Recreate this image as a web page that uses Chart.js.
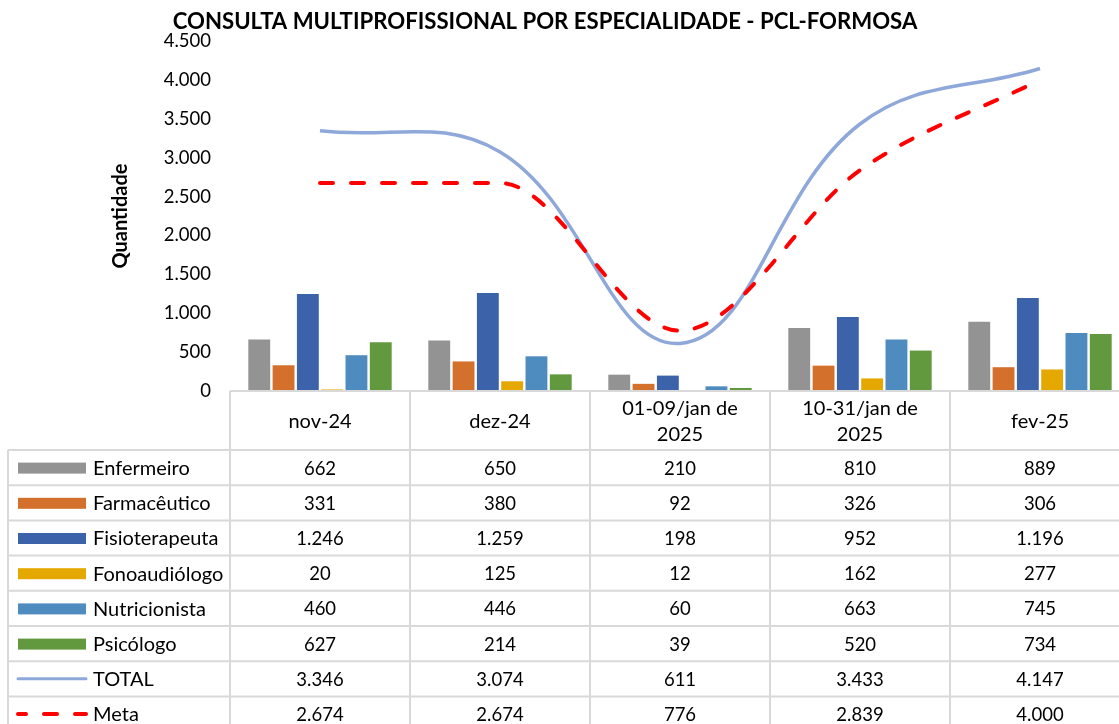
<!DOCTYPE html>
<html><head><meta charset="utf-8">
<script src="https://cdn.jsdelivr.net/npm/chart.js@4"></script>
<style>
html,body{margin:0;padding:0;overflow:hidden;background:#fff;width:1119px;height:724px}
#wrap{position:absolute;left:0;top:0;width:1130px;height:724px}
</style></head><body><div id="wrap"><canvas id="c" width="1130" height="724"></canvas></div>
<script>
const title = "CONSULTA MULTIPROFISSIONAL POR ESPECIALIDADE - PCL-FORMOSA";
const categories = [["nov-24"],["dez-24"],["01-09/jan de","2025"],["10-31/jan de","2025"],["fev-25"]];
const enfermeiro     = [662, 650, 210, 810, 889];
const farmaceutico   = [331, 380, 92, 326, 306];
const fisioterapeuta = [1246, 1259, 198, 952, 1196];
const fonoaudiologo  = [20, 125, 12, 162, 277];
const nutricionista  = [460, 446, 60, 663, 745];
const psicologo      = [627, 214, 39, 520, 734];
const total          = [3346, 3074, 611, 3433, 4147];
const meta           = [2674, 2674, 776, 2839, 4000];
const yTicks = [0, 500, 1000, 1500, 2000, 2500, 3000, 3500, 4000, 4500];

const FONT = "Lato";
const fmt = v => String(v).replace(/\B(?=(\d{3})+(?!\d))/g, ".");

const bar = (label, data, color) => ({type:'bar', label, data, backgroundColor: color, borderWidth:0, order:2,
  categoryPercentage:0.81, barPercentage:0.9, key:'bar'});

const datasets = [
  bar("Enfermeiro", enfermeiro, "#939393"),
  bar("Farmacêutico", farmaceutico, "#D3702C"),
  bar("Fisioterapeuta", fisioterapeuta, "#3C63AA"),
  bar("Fonoaudiólogo", fonoaudiologo, "#E5A800"),
  bar("Nutricionista", nutricionista, "#4E8BBF"),
  bar("Psicólogo", psicologo, "#62993E"),
  {type:'line', label:"TOTAL", data: total, borderColor:"#8FA8DA", borderWidth:3.5, tension:0.4,
   pointRadius:0, fill:false, order:1, key:'line'},
  {type:'line', label:"Meta", data: meta, borderColor:"#FF0000", borderWidth:4, borderDash:[13,18],
   borderCapStyle:'round', cubicInterpolationMode:'monotone', pointRadius:0, fill:false, order:0, key:'dash'}
];

const tablePlugin = {
  id:'table',
  afterDraw(chart){
    const ctx = chart.ctx, area = chart.chartArea, xs = chart.scales.x;
    const n = categories.length;
    const colW = (area.right - area.left) / n;
    const top = area.bottom, headH = 59, rowH = 35.2, left = 8;
    const rows = chart.data.datasets;
    const bottom = top + headH + rowH * rows.length;
    ctx.save();
    ctx.fillStyle = "#000";
    let ts = 22;
    ctx.font = `bold ${ts}px ${FONT}`;
    const w = ctx.measureText(title).width;
    ts = ts * 745 / w;
    ctx.font = `bold ${ts}px ${FONT}`;
    ctx.textAlign = 'center'; ctx.textBaseline = 'middle';
    ctx.fillText(title, 545, 22);

    ctx.strokeStyle = "#D9D9D9"; ctx.lineWidth = 2;
    ctx.beginPath();
    ctx.moveTo(area.left, top); ctx.lineTo(area.right, top);
    for (let i = 0; i <= rows.length; i++) {
      const y = top + headH + rowH * i;
      ctx.moveTo(left, y); ctx.lineTo(area.right, y);
    }
    for (let i = 0; i <= n; i++) {
      const x = area.left + colW * i;
      ctx.moveTo(x, top); ctx.lineTo(x, bottom);
    }
    ctx.moveTo(left, top + headH); ctx.lineTo(left, bottom);
    ctx.stroke();

    ctx.fillStyle = "#000";
    ctx.font = `20px ${FONT}`;
    ctx.textAlign = 'center'; ctx.textBaseline = 'middle';
    categories.forEach((lab, i) => {
      const cx = xs.getPixelForValue(i);
      const cy = top + headH / 2 + 1;
      const lh = 26;
      lab.forEach((t, j) => ctx.fillText(t, cx, cy + (j - (lab.length - 1) / 2) * lh));
    });

    rows.forEach((ds, r) => {
      const cy = top + headH + rowH * r + rowH / 2 + 1;
      if (ds.key === 'bar') {
        ctx.fillStyle = ds.backgroundColor;
        ctx.fillRect(18, cy - 6, 68, 11);
      } else {
        ctx.strokeStyle = ds.borderColor; ctx.lineWidth = ds.key === 'line' ? 3 : 4;
        ctx.lineCap = 'round';
        ctx.setLineDash(ds.key === 'dash' ? [13, 18] : []);
        ctx.lineDashOffset = ds.key === 'dash' ? 5 : 0;
        ctx.beginPath(); ctx.moveTo(18, cy - 1); ctx.lineTo(86, cy - 1); ctx.stroke();
        ctx.setLineDash([]);
      }
      ctx.fillStyle = "#000";
      ctx.font = `20px ${FONT}`;
      ctx.textAlign = 'left';
      ctx.fillText(ds.label, 93, cy);
      ctx.font = `18.5px ${FONT}`;
      ctx.textAlign = 'center';
      ds.data.forEach((v, i) => ctx.fillText(fmt(v), xs.getPixelForValue(i), cy));
    });
    ctx.restore();
  }
};

new Chart(document.getElementById('c'), {
  type:'bar',
  data:{ labels: categories, datasets },
  options:{
    responsive:false, animation:false, devicePixelRatio:1,
    layout:{ padding:{ left:105, top:41, right:0, bottom:333 } },
    plugins:{ legend:{display:false}, tooltip:{enabled:false}, title:{display:false} },
    scales:{
      x:{ display:false },
      y:{
        min:0, max:4500,
        afterFit(s){ s.width = 125; },
        afterBuildTicks(s){ s.ticks = yTicks.map(v => ({value:v})); },
        grid:{ display:false, drawTicks:false },
        border:{ display:false },
        ticks:{ padding:19, color:"#000", font:{ family:FONT, size:18.5 }, callback: v => fmt(v) },
        title:{ display:true, text:"Quantidade", color:"#000", font:{ family:FONT, size:20, weight:'bold' } }
      }
    }
  },
  plugins:[tablePlugin]
});
</script></body></html>
